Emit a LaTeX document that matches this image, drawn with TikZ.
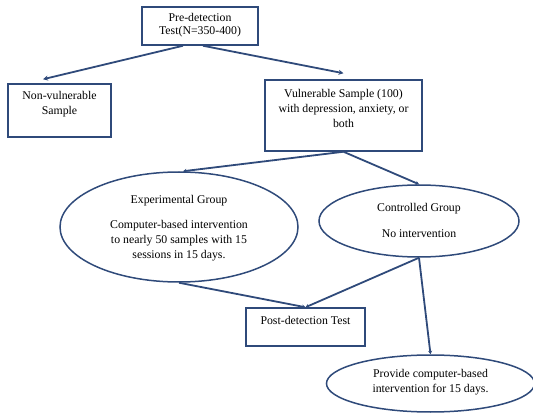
\documentclass[tikz,border=0pt]{standalone}
\usepackage{fontspec}
\setmainfont{Liberation Serif}
\usetikzlibrary{shapes.geometric,arrows.meta}
\definecolor{navy}{RGB}{47,74,122}
\begin{document}
\begin{tikzpicture}[x=1pt,y=-1pt,
  box/.style={draw=navy,line width=1.5pt,fill=white,rectangle,inner sep=0pt},
  oval/.style={draw=navy,line width=1.5pt,fill=white,ellipse,inner sep=0pt},
  txt/.style={align=center,font=\fontsize{11.8}{15}\selectfont,inner sep=0pt},
  conn/.style={draw=navy,line width=1.8pt},
  arr/.style={conn,-{Stealth[length=5pt,width=5pt]}},
  sarr/.style={conn,-{Stealth[length=3.5pt,width=4pt]}}]
\useasboundingbox (0,0) rectangle (533,414);
% boxes
\node[box,minimum width=116pt,minimum height=38pt] (pre) at (200,26) {};
\node[txt,font=\fontsize{11.8}{13}\selectfont] (pret) at (200,25) {Pre-detection\\Test(N=350-400)};
\node[box,minimum width=103pt,minimum height=53pt] (nonv) at (59.5,110.5) {};
\node[txt] (nonvt) at (59.5,104) {Non-vulnerable\\Sample};
\node[box,minimum width=157pt,minimum height=71pt] (vul) at (343.5,115.5) {};
\node[txt] (vult) at (343.5,108) {Vulnerable Sample (100)\\with depression, anxiety, or\\both};
% ellipses
\node[oval,minimum width=238pt,minimum height=110pt] (exp) at (179,227) {};
\node[txt] (expt) at (179,228) {Experimental Group\\[10pt]Computer-based intervention\\to nearly 50 samples with 15\\sessions in 15 days.};
\node[oval,minimum width=200pt,minimum height=72pt] (con) at (419,221) {};
\node[txt] (cont) at (419,220) {Controlled Group\\[11pt]No intervention};
\node[box,minimum width=119pt,minimum height=38pt] (post) at (305.5,327) {};
\node[txt] (postt) at (305.5,320) {Post-detection Test};
\node[oval,minimum width=208pt,minimum height=57pt] (prov) at (430.5,383.5) {};
\node[txt] (provt) at (430.5,382) {Provide computer-based\\intervention for 15 days.};
% connectors
\draw[arr] ([xshift=-17pt]pre.south) -- ([xshift=-16.5pt,yshift=4pt]nonv.north);
\draw[arr] ([xshift=3pt]pre.south) -- ([yshift=6pt]vul.north);
\draw[sarr] (vul.south) -- ([xshift=4pt]exp.north);
\draw[sarr] (vul.south) -- (con.north);
\draw[sarr] (exp.south) -- (post.north);
\draw[sarr] (con.south) -- (post.north);
\draw[sarr] (con.south) -- (prov.north);
\end{tikzpicture}
\end{document}
